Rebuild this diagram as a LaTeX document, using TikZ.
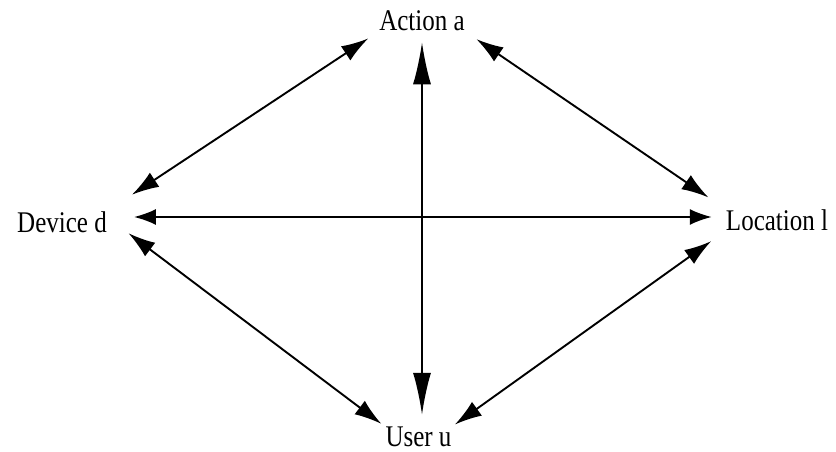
\documentclass[tikz,border=0pt]{standalone}
\usepackage{fontspec}
\setmainfont{Liberation Serif}
\usetikzlibrary{arrows.meta}
\newcommand{\lbl}[1]{\scalebox{1}[1.2]{#1}}
\begin{document}
\begin{tikzpicture}[x=1pt,y=1pt,
  lab/.style={inner sep=0pt, font=\fontsize{25}{30}\selectfont},
  link/.style={line width=1.9pt},
  tipd/.style={{Latex[length=27pt,width=17pt]}-{Latex[length=27pt,width=17pt]}},
  tiph/.style={{Latex[length=22pt,width=16pt]}-{Latex[length=22pt,width=16pt]}},
  tipv/.style={{Latex[length=42pt,width=18pt]}-{Latex[length=42pt,width=18pt]}}]
\useasboundingbox (0,0) rectangle (836,452);
\node[lab] (a) at (422,431) {\lbl{Action a}};
\node[lab] (d) at (62,230) {\lbl{Device d}};
\node[lab] (l) at (777,232) {\lbl{Location l}};
\node[lab] (u) at (418.5,15) {\lbl{User u}};
\draw[link,tipd,shorten <=13pt,shorten >=30pt] (a.south west) -- (d.north east);
\draw[link,tipv,shorten <=11pt,shorten >=12pt] (a.south) -- (a.south |- u.north);
\draw[link,tipd,shorten <=14pt,shorten >=21pt] (a.south east) -- (l.north west);
\draw[link,tiph,shorten <=27pt,shorten >=14pt] ([yshift=5pt]d.east) -- ([yshift=5pt]d.east -| l.west);
\draw[link,tipd,shorten <=27pt,shorten >=5pt] ([yshift=5pt]d.east) -- (u.north west);
\draw[link,tipd,shorten <=18pt,shorten >=4pt] (l.south west) -- (u.north east);
\end{tikzpicture}
\end{document}
